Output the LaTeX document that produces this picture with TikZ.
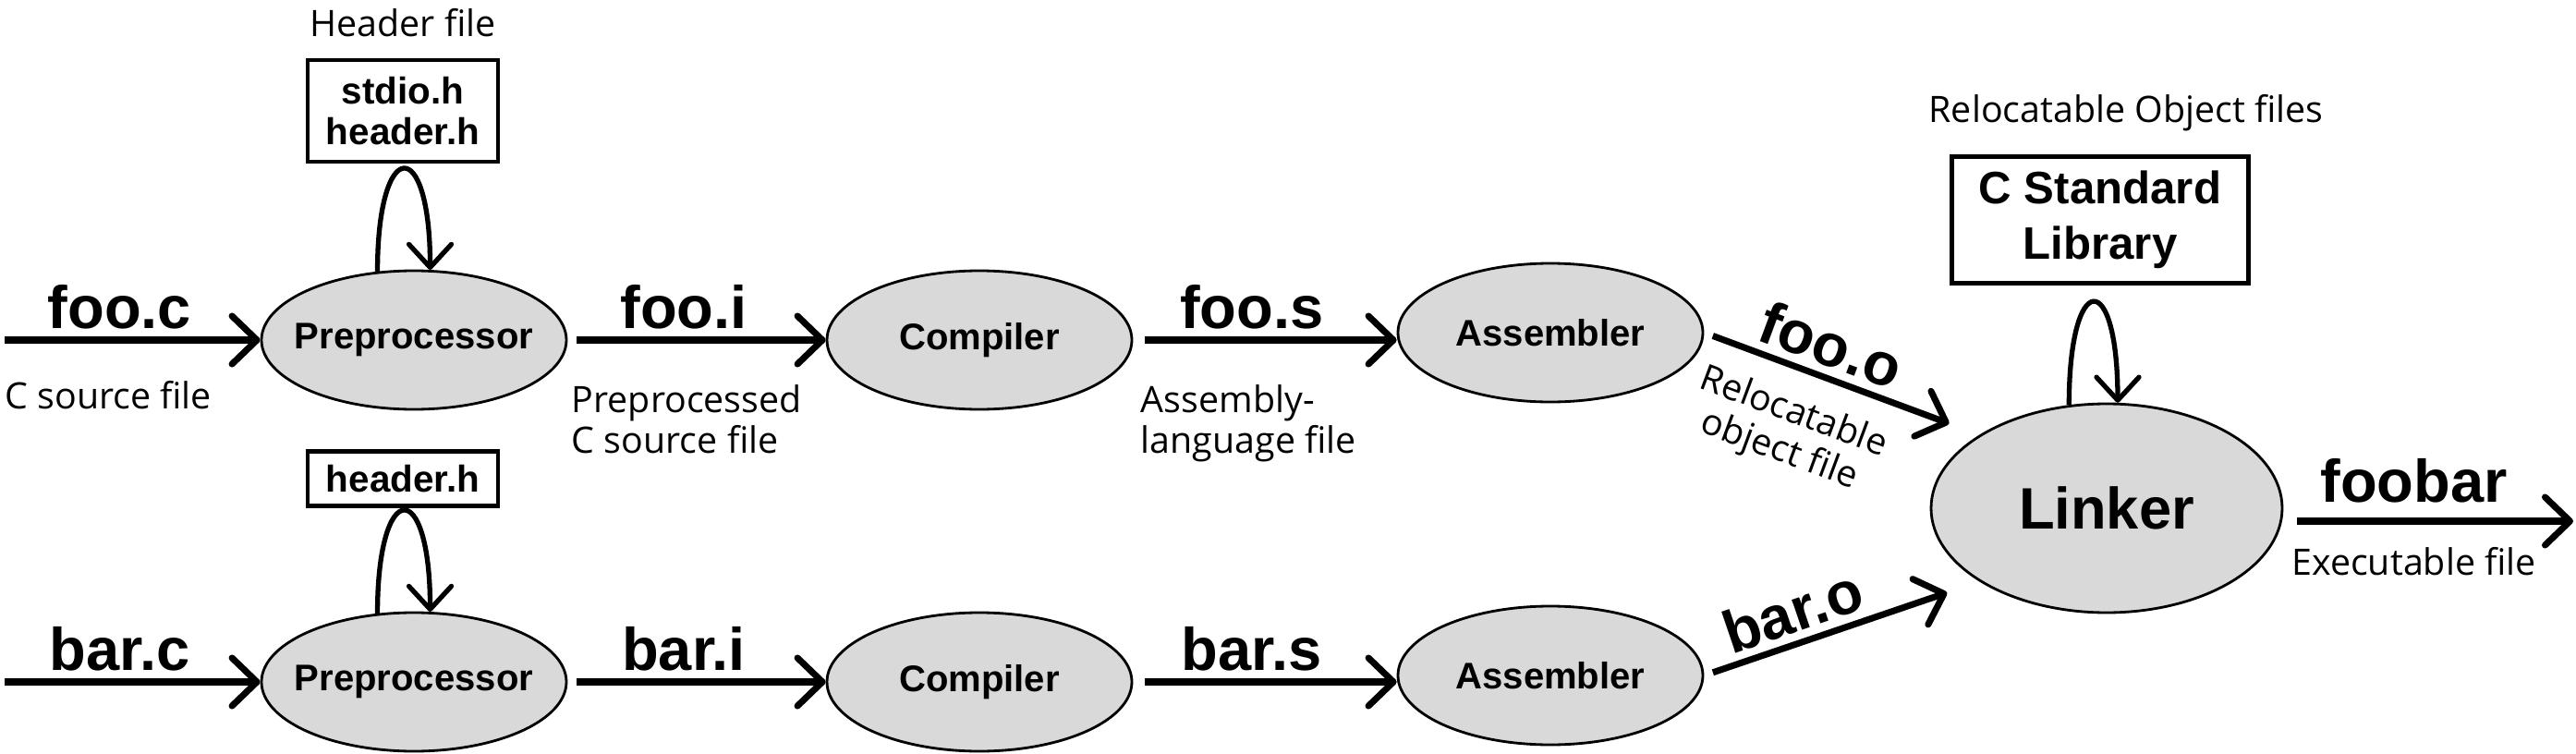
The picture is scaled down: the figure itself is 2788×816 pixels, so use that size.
\documentclass[tikz,border=0pt]{standalone}
\usepackage{fontspec}
\setmainfont{Liberation Sans}
\newfontfamily\thinfont{Open Sans}
\usetikzlibrary{shapes.geometric, arrows.meta, positioning}

\tikzset{
  proc/.style={ellipse, draw, line width=0.8pt, fill=black!15, inner xsep=-3mm, minimum width=33mm, minimum height=15mm, font=\bfseries\fontsize{11.4}{13}\selectfont},
  hbox/.style={rectangle, draw, line width=1.2pt, align=center, minimum width=20.6mm, inner sep=0.5mm, font=\bfseries\fontsize{11.5}{12.6}\selectfont},
  flow/.style={line width=2pt, -{Straight Barb[length=2.7mm, width=5.2mm, round]}},
  loopback/.style={line width=1.5pt, -{Straight Barb[length=2.5mm, width=4.6mm, round]}},
  fname/.style={font=\bfseries\fontsize{18.5}{20}\selectfont, inner sep=0.8mm},
  note/.style={font=\thinfont\fontsize{11.2}{12.5}\selectfont, inner sep=0.5mm, align=left},
}

\begin{document}
\begin{tikzpicture}[x=0.1mm, y=-0.1mm] %%% one unit = one pixel of the reference, y runs down
  \useasboundingbox (0,0) rectangle (2788,816);

  %%% upper row: foo
  \node[proc] (pre1)  at (448,368)  {Preprocessor};
  \node[proc] (comp1) at (1060,368) {Compiler};
  \node[proc] (asm1)  at (1678,360) {Assembler};
  \node[hbox, minimum height=11mm] (hdr1) at (436,120) {stdio.h\\header.h};
  \node[note, above=1.7mm of hdr1] (hdrlbl) {Header file};
  \coordinate (in1) at (5,368);

  %%% lower row: bar
  \node[proc] (pre2)  at (448,738)  {Preprocessor};
  \node[proc] (comp2) at (1060,738) {Compiler};
  \node[proc] (asm2)  at (1678,731) {Assembler};
  \node[hbox, minimum height=5.9mm] (hdr2) at (436,518) {header.h};
  \coordinate (in2) at (5,738);

  %%% linker
  \node[ellipse, draw, line width=0.8pt, fill=black!15, minimum width=38mm, minimum height=22.6mm, font=\bfseries\fontsize{18}{20}\selectfont] (linker) at (2280,550) {Linker};
  \node[rectangle, draw, line width=1.2pt, align=center, minimum width=32.1mm, minimum height=13.7mm, font=\bfseries\fontsize{14}{17}\selectfont] (lib) at (2273,238) {C Standard\\Library};
  \node[note, above=2mm of lib, xshift=2.8mm] (liblbl) {Relocatable Object files};
  \coordinate (out) at (2785,564);

  %%% foo chain
  \draw[flow] (in1) -- node[fname, pos=.45, above] (lfooc) {foo.c}
    node[note, pos=0, anchor=north west, yshift=-3.6mm, xshift=-0.8mm] (lcsrc1) {C source file} (pre1);
  \draw[flow, shorten <=1mm] (pre1) -- node[fname, pos=.45, above] (lfooi) {foo.i}
    node[note, pos=0, anchor=north west, yshift=-4mm, xshift=-0.4mm] (lpre1) {Preprocessed\\C source file} (comp1);
  \draw[flow, shorten <=1.3mm] (comp1.east) -- node[fname, pos=.45, above] (lfoos) {foo.s}
    node[note, pos=0, anchor=north west, yshift=-4mm] (lasm1) {Assembly-\\language file} (asm1.west |- comp1.east);
  \draw[flow, shorten <=1mm, shorten >=3.5mm] (asm1.east) -- node[fname, pos=.42, above, sloped] (lfooo) {foo.o}
    node[note, pos=.38, below=2mm, sloped, align=center] (lobj) {Relocatable\\object file} (linker.150);

  %%% bar chain
  \draw[flow] (in2) -- node[fname, pos=.45, above] (lbarc) {bar.c} (pre2);
  \draw[flow, shorten <=1mm] (pre2) -- node[fname, pos=.45, above] (lbari) {bar.i} (comp2);
  \draw[flow, shorten <=1.3mm] (comp2.east) -- node[fname, pos=.45, above] (lbars) {bar.s} (asm2.west |- comp2.east);
  \draw[flow, shorten <=1mm, shorten >=3.7mm] (asm2.east) -- node[fname, pos=.36, above, sloped] (lbaro) {bar.o} (linker.210);

  %%% output
  \draw[flow, shorten <=1.5mm] (linker.east |- out) -- node[fname, pos=.45, above, yshift=0.8mm] (lfoobar) {foobar}
    node[note, pos=.45, below=2mm, align=center] (lexe) {Executable file} (out);

  %%% header and library loops
  \draw[loopback] (pre1.118) .. controls +(0,-147) and +(0,-147) .. (pre1.77);
  \draw[loopback] (pre2.118) .. controls +(0,-147) and +(0,-147) .. (pre2.77);
  \draw[loopback] (linker.110) .. controls +(0,-147) and +(0,-147) .. (linker.84);
\end{tikzpicture}
\end{document}
